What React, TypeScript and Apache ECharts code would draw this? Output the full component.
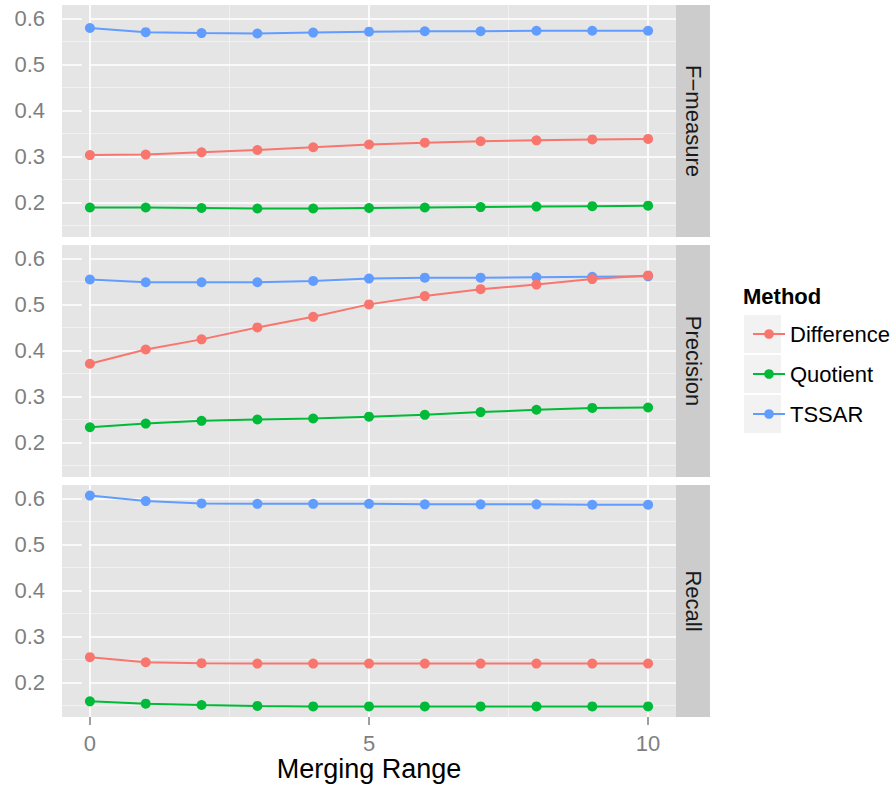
import React, { useEffect, useRef } from "react";
import * as echarts from "echarts";

const mergingRange = [0, 1, 2, 3, 4, 5, 6, 7, 8, 9, 10];
const methods = ["Difference", "Quotient", "TSSAR"];
const facets = ["F\u2212measure", "Precision", "Recall"];

const fDifference = [0.303, 0.304, 0.309, 0.314, 0.320, 0.326, 0.330, 0.333, 0.335, 0.337, 0.338];
const fQuotient = [0.189, 0.189, 0.188, 0.187, 0.187, 0.188, 0.189, 0.190, 0.191, 0.192, 0.193];
const fTSSAR = [0.579, 0.570, 0.568, 0.567, 0.569, 0.571, 0.572, 0.572, 0.573, 0.573, 0.573];

const pDifference = [0.371, 0.402, 0.424, 0.450, 0.473, 0.500, 0.518, 0.533, 0.543, 0.555, 0.563];
const pQuotient = [0.233, 0.241, 0.247, 0.250, 0.252, 0.256, 0.260, 0.266, 0.271, 0.275, 0.276];
const pTSSAR = [0.554, 0.548, 0.548, 0.548, 0.551, 0.556, 0.558, 0.558, 0.559, 0.560, 0.561];

const rDifference = [0.255, 0.244, 0.242, 0.241, 0.241, 0.241, 0.241, 0.241, 0.241, 0.241, 0.241];
const rQuotient = [0.159, 0.154, 0.151, 0.149, 0.148, 0.148, 0.148, 0.148, 0.148, 0.148, 0.148];
const rTSSAR = [0.606, 0.594, 0.589, 0.588, 0.588, 0.588, 0.587, 0.587, 0.587, 0.586, 0.586];

const facetValues = [
  [fDifference, fQuotient, fTSSAR],
  [pDifference, pQuotient, pTSSAR],
  [rDifference, rQuotient, rTSSAR],
];

const xTicks = [0, 5, 10];
const xMinorTicks = [2.5, 7.5];
const yTicks = [0.2, 0.3, 0.4, 0.5, 0.6];
const yMinorTicks = [0.15, 0.25, 0.35, 0.45, 0.55];

const colors = ["#F8766D", "#00BA38", "#619CFF"];
const FONT = "'Liberation Sans', Arial, Helvetica, sans-serif";

export default function App() {
  const ref = useRef<HTMLDivElement>(null);

  useEffect(() => {
    if (!ref.current) return;
    const chart = echarts.init(ref.current, undefined, { renderer: "svg" });

    const panelLeft = 62;
    const panelWidth = 614;
    const panelHeight = 232;
    const panelTops = [5, 245, 485];

    const majorLine = { color: "#FFFFFF", width: 1.7, type: "solid" };
    const minorLine = { color: "#F2F2F2", width: 0.9, type: "solid" };

    const grid = panelTops.map((t) => ({
      left: panelLeft,
      top: t,
      width: panelWidth,
      height: panelHeight,
      show: true,
      backgroundColor: "#E5E5E5",
      borderWidth: 0,
    }));

    const xAxis = panelTops.map((_, i) => ({
      type: "value",
      gridIndex: i,
      min: -0.5,
      max: 10.5,
      axisLine: { show: false },
      splitLine: { show: false },
      axisTick: {
        show: i === 2,
        customValues: xTicks,
        length: 8,
        lineStyle: { color: "#7F7F7F", width: 1.5 },
      },
      axisLabel: {
        show: i === 2,
        customValues: xTicks,
        margin: 15,
        color: "#7F7F7F",
        fontSize: 22,
        fontFamily: FONT,
      },
      name: i === 2 ? "Merging Range" : "",
      nameLocation: "middle",
      nameGap: 38,
      nameTextStyle: { fontSize: 27, color: "#000000", fontFamily: FONT },
    }));

    const yAxis = panelTops.map((_, i) => ({
      type: "value",
      gridIndex: i,
      min: 0.125,
      max: 0.629,
      axisLine: { show: false },
      splitLine: { show: false },
      axisTick: {
        show: true,
        customValues: yTicks,
        length: 8,
        lineStyle: { color: "#7F7F7F", width: 1.5 },
      },
      axisLabel: {
        show: true,
        customValues: yTicks,
        margin: 17,
        color: "#7F7F7F",
        fontSize: 22,
        fontFamily: FONT,
        formatter: (v: number) => v.toFixed(1),
      },
    }));

    const gridLines = [
      ...xMinorTicks.map((v) => ({ xAxis: v, lineStyle: minorLine })),
      ...yMinorTicks.map((v) => ({ yAxis: v, lineStyle: minorLine })),
      ...xTicks.map((v) => ({ xAxis: v, lineStyle: majorLine })),
      ...yTicks.map((v) => ({ yAxis: v, lineStyle: majorLine })),
    ];

    const series: any[] = [];
    facetValues.forEach((vals, i) => {
      [2, 1, 0].forEach((j) => {
        const s: any = {
          type: "line",
          name: methods[j],
          xAxisIndex: i,
          yAxisIndex: i,
          data: mergingRange.map((x, k) => [x, vals[j][k]]),
          symbol: "circle",
          symbolSize: 10,
          showSymbol: true,
          lineStyle: { width: 2, color: colors[j] },
          itemStyle: { color: colors[j] },
          z: 3,
        };
        if (j === 2) {
          s.markLine = {
            silent: true,
            symbol: ["none", "none"],
            label: { show: false },
            z: 1,
            animation: false,
            data: gridLines,
          };
        }
        series.push(s);
      });
    });

    const graphic: any[] = [];
    panelTops.forEach((t, i) => {
      graphic.push({
        type: "rect",
        shape: { x: 676, y: t, width: 34, height: panelHeight },
        style: { fill: "#CCCCCC" },
      });
      graphic.push({
        type: "text",
        x: 693,
        y: t + panelHeight / 2,
        rotation: -Math.PI / 2,
        style: {
          text: facets[i],
          fontSize: 22,
          fontFamily: FONT,
          fill: "#1A1A1A",
          align: "center",
          verticalAlign: "middle",
        },
      });
    });
    graphic.push({
      type: "text",
      x: 743,
      y: 296,
      style: {
        text: "Method",
        fontSize: 22,
        fontWeight: "bold",
        fontFamily: FONT,
        fill: "#000000",
        align: "left",
        verticalAlign: "middle",
      },
    });
    methods.forEach((_, j) => {
      graphic.push({
        type: "rect",
        shape: { x: 744, y: 315 + 40 * j, width: 37, height: 38 },
        style: { fill: "#F2F2F2" },
      });
    });

    chart.setOption({
      animation: false,
      backgroundColor: "#FFFFFF",
      grid,
      xAxis,
      yAxis,
      series,
      graphic,
      legend: {
        data: methods,
        orient: "vertical",
        left: 747,
        top: 318,
        itemWidth: 32,
        itemHeight: 12,
        itemGap: 18,
        selectedMode: false,
        textStyle: {
          fontSize: 22,
          lineHeight: 22,
          color: "#000000",
          fontFamily: FONT,
        },
      },
    });

    return () => chart.dispose();
  }, []);

  return (
    <div
      ref={ref}
      style={{ position: "fixed", left: 0, top: 0, width: 896, height: 786, background: "#FFFFFF" }}
    />
  );
}
